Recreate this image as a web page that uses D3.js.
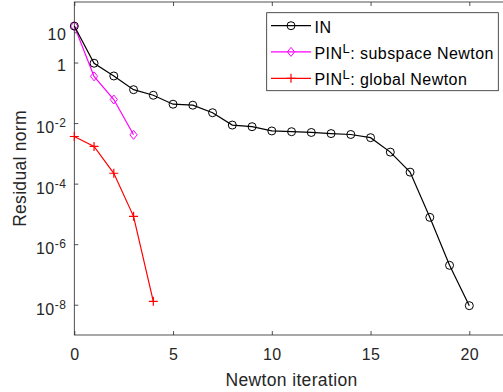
<!DOCTYPE html>
<html lang="en">
<head>
<meta charset="UTF-8">
<script src="https://d3js.org/d3.v7.min.js"></script>
<style>
  body { margin: 0; background: #fff; }
  svg { display: block; font-family: "Liberation Sans", Arial, sans-serif; }
</style>
</head>
<body>
<script>
  // data
  const iters = d3.range(0, 21);
  const inRes = [16, 0.95, 0.36, 0.127, 0.083, 0.042, 0.039, 0.022, 0.0086, 0.0076,
                 0.0055, 0.0052, 0.0049, 0.0045, 0.0042, 0.0033, 0.0011, 2.4e-4, 7.7e-6, 2.0e-7, 9.3e-9];
  const subIters = [0, 1, 2, 3];
  const subRes = [16, 0.35, 0.06, 0.0041];
  const globIters = [0, 1, 2, 3, 4];
  const globRes = [0.0036, 0.0017, 2.2e-4, 8.3e-6, 1.3e-8];
  const xTicks = [0, 5, 10, 15, 20];
  const yTicks = [1e-8, 1e-6, 1e-4, 1e-2, 1, 10];
  const legendNames = [["IN"], ["PIN", "L", ": subspace Newton"], ["PIN", "L", ": global Newton"]];

  const w = 503, h = 392;
  const mLeft = 74.3, mRight = 508.8, mTop = 2, mBottom = 335;
  const axisCol = "#262626";

  const svg = d3.select("body").append("svg").attr("width", w).attr("height", h);

  const x = d3.scaleLinear().domain([0, 22]).range([mLeft, mRight]);
  const y = d3.scaleLog().domain([1e-9, 1e2]).range([mBottom, mTop]);

  // box
  svg.append("rect")
    .attr("x", mLeft).attr("y", mTop)
    .attr("width", mRight - mLeft).attr("height", mBottom - mTop)
    .attr("fill", "none").attr("stroke", axisCol).attr("stroke-width", 0.8);

  const xAxis = svg.append("g").attr("transform", `translate(0,${mBottom})`)
    .call(d3.axisBottom(x).tickValues(xTicks).tickSizeInner(-4).tickSizeOuter(0).tickPadding(14));
  const xTop = svg.append("g").attr("transform", `translate(0,${mTop})`)
    .call(d3.axisTop(x).tickValues(xTicks).tickSizeInner(-4).tickSizeOuter(0).tickFormat(""));
  const yAxis = svg.append("g").attr("transform", `translate(${mLeft},0)`)
    .call(d3.axisLeft(y).tickValues(yTicks).tickSizeInner(-4).tickSizeOuter(0).tickPadding(8).tickFormat(""));

  [xAxis, xTop, yAxis].forEach(g => {
    g.select(".domain").remove();
    g.selectAll("line").attr("stroke", axisCol).attr("stroke-width", 0.8);
    g.selectAll("text").attr("fill", axisCol)
      .style("font-size", "16px").style("letter-spacing", "0.45px");
  });
  xAxis.selectAll("text").attr("dy", "0.71em");

  // y tick labels with superscripts
  yAxis.selectAll(".tick text").each(function(d) {
    const t = d3.select(this);
    const e = Math.round(Math.log10(d));
    if (e === 0 || e === 1) {
      t.attr("dy", "0.47em").text(e === 0 ? "1" : "10");
      return;
    }
    t.attr("dy", "0.59em");
    t.append("tspan").text("10");
    t.append("tspan").attr("dy", "-6px").style("font-size", "12px").text(e);
  });

  // axis labels
  svg.append("text").attr("x", (mLeft + mRight) / 2).attr("y", 386)
    .attr("text-anchor", "middle").attr("fill", axisCol)
    .style("font-size", "17.5px").style("letter-spacing", "0.35px")
    .text("Newton iteration");
  svg.append("text").attr("transform", `translate(26,${(mTop + mBottom) / 2}) rotate(-90)`)
    .attr("text-anchor", "middle").attr("fill", axisCol)
    .style("font-size", "17.5px").style("letter-spacing", "0.3px")
    .text("Residual norm");

  const line = d3.line().x(d => x(d[0])).y(d => y(d[1]));

  const series = [
    { pts: iters.map((d, i) => [d, inRes[i]]), color: "#000000", marker: "circle" },
    { pts: subIters.map((d, i) => [d, subRes[i]]), color: "#ff00ff", marker: "diamond" },
    { pts: globIters.map((d, i) => [d, globRes[i]]), color: "#ff0000", marker: "plus" }
  ];

  function drawMarker(g, type, cx, cy, color) {
    if (type === "circle") {
      g.append("circle").attr("cx", cx).attr("cy", cy).attr("r", 4)
        .attr("fill", "none").attr("stroke", color).attr("stroke-width", 1);
    } else if (type === "diamond") {
      const r = 4.5;
      g.append("path").attr("d", `M${cx},${cy - r}L${cx + r * 0.8},${cy}L${cx},${cy + r}L${cx - r * 0.8},${cy}Z`)
        .attr("fill", "none").attr("stroke", color).attr("stroke-width", 1);
    } else {
      const r = 4.5;
      g.append("path").attr("d", `M${cx - r},${cy}H${cx + r}M${cx},${cy - r}V${cy + r}`)
        .attr("stroke", color).attr("stroke-width", 1.2);
    }
  }

  series.slice().reverse().forEach(s => {
    const g = svg.append("g");
    g.append("path").attr("d", line(s.pts)).attr("fill", "none")
      .attr("stroke", s.color).attr("stroke-width", 1.2);
    s.pts.forEach(p => drawMarker(g, s.marker, x(p[0]), y(p[1]), s.color));
  });

  // legend
  const lg = svg.append("g");
  lg.append("rect").attr("x", 266.7).attr("y", 12.7).attr("width", 231.6).attr("height", 78)
    .attr("fill", "#fff").attr("stroke", axisCol).attr("stroke-width", 0.8);
  const rowY = [25.7, 51.9, 78.3];
  series.forEach((s, i) => {
    const yy = rowY[i];
    lg.append("line").attr("x1", 271).attr("x2", 311).attr("y1", yy).attr("y2", yy)
      .attr("stroke", s.color).attr("stroke-width", 1.2);
    drawMarker(lg, s.marker, 291, yy, s.color);
    const t = lg.append("text").attr("x", 314.5).attr("y", yy).attr("dy", "7px")
      .attr("fill", "#000").style("font-size", "16px").style("letter-spacing", "0.45px");
    const parts = legendNames[i];
    t.append("tspan").text(parts[0]);
    if (parts.length > 2) {
      t.append("tspan").attr("dy", "-6px").style("font-size", "13px").text(parts[1]);
      t.append("tspan").attr("dy", "6px").text(parts[2]);
    }
  });
</script>
</body>
</html>
